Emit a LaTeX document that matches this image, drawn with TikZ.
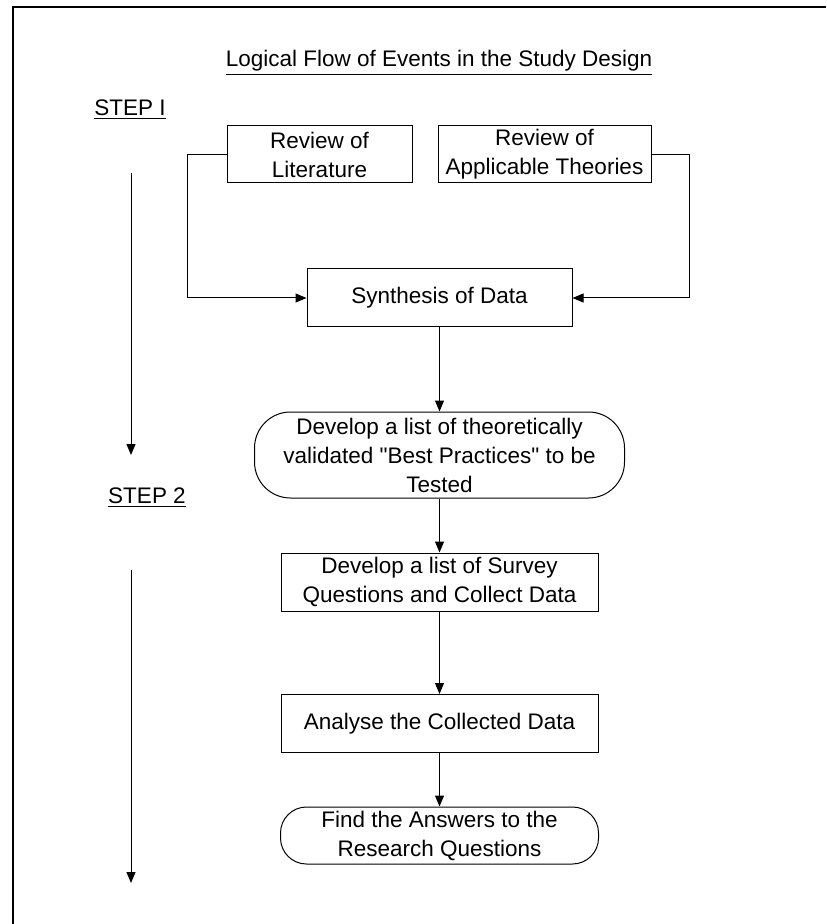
\documentclass[tikz,border=0pt]{standalone}
\usepackage{fontspec}
\setmainfont{Liberation Sans}
\usetikzlibrary{arrows.meta, positioning, shapes.misc}
\tikzstyle{arrow} = [->, >={Triangle[length=5.5pt,width=4.5pt]}]
\tikzstyle{process} = [rectangle, draw=black, minimum width=158.5pt, minimum height=29pt, inner sep=0pt, align=center]
\tikzstyle{terminal} = [rectangle, rounded corners=13pt, draw=black, minimum width=159pt, minimum height=28.5pt, inner sep=0pt, align=center]
\tikzstyle{steplabel} = [inner sep=0pt]
\begin{document}
\begin{tikzpicture}[x=0.5pt, y=-0.5pt, line width=0.5pt, font=\fontsize{11.25pt}{14.5pt}\selectfont]
\useasboundingbox (0,0) rectangle (826,924);
%----------------------------------------------------------------------------
% Frame and headings
\draw [line width=1pt] (13,924) -- (13,7) -- (826,7);
\node (title) [steplabel] at (439,63) {\underline{Logical Flow of Events in the Study Design}};
\node (stepOne) [steplabel] at (130,110) {\underline{STEP I}};
\node (stepTwo) [steplabel] at (147,498) {\underline{STEP 2}};

%----------------------------------------------------------------------------
% Placement of flowchart nodes
\node (litReview) [process, minimum width=92.5pt, minimum height=28.5pt] at (319.5,154.5) {Review of\\Literature};
\node (theoryReview) [process, minimum width=106.5pt, minimum height=28.5pt] at (544.5,154.5) {Review of\\Applicable Theories};
\node (synthData) [process, minimum width=132.5pt] at (439.5,298) {Synthesis of Data};
\node (bestPractices) [terminal, below of = synthData, node distance=78.5pt, rounded corners=18pt, minimum width=185pt, minimum height=43pt] {Develop a list of theoretically\\validated \textquotedbl Best Practices\textquotedbl{} to be\\Tested};
\node (surveyData) [process, below of = bestPractices, node distance=63.5pt] {Develop a list of Survey\\Questions and Collect Data};
\node (analyseData) [process, below of = surveyData, node distance=70.75pt] {Analyse the Collected Data};
\node (findAnswers) [terminal, below of = analyseData, node distance=56pt] {Find the Answers to the\\Research Questions};

%----------------------------------------------------------------------------
% Lines
\draw [arrow] (litReview.west) -- ++(-39,0) |- (synthData.west);
\draw [arrow] (theoryReview.east) -- ++(38,0) |- (synthData.east);
\draw [arrow] (synthData) -- (bestPractices);
\draw [arrow] (bestPractices) -- (surveyData);
\draw [arrow] (surveyData) -- (analyseData);
\draw [arrow] (analyseData) -- (findAnswers);

%----------------------------------------------------------------------------
% Step arrows
\coordinate (stepOneTop) at (131,173);
\coordinate (stepOneEnd) at (131,455);
\coordinate (stepTwoTop) at (131,570);
\coordinate (stepTwoEnd) at (131,883);
\draw [arrow] (stepOneTop) -- (stepOneEnd);
\draw [arrow] (stepTwoTop) -- (stepTwoEnd);

\end{tikzpicture}
\end{document}
